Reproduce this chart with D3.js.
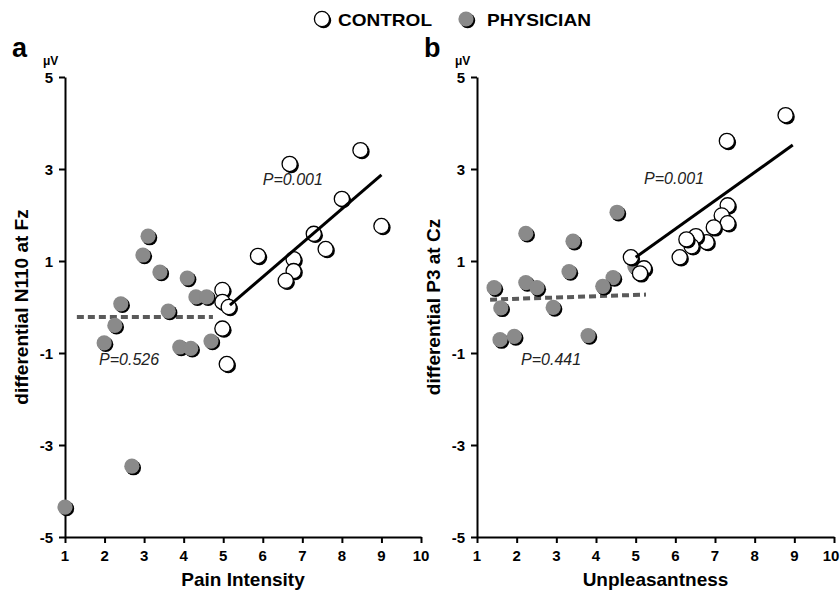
<!DOCTYPE html>
<html>
<head>
<meta charset="utf-8">
<script src="https://cdn.jsdelivr.net/npm/d3@7"></script>
<style>
  body { margin: 0; background: #fff; }
</style>
</head>
<body>
<svg id="chart" width="840" height="591"></svg>
<script>
// panel a: pain intensity vs differential N110 at Fz
const ctrlPainX = [6.68, 8.47, 8.0, 9.0, 5.88, 7.29, 7.59, 6.78, 6.78, 6.58, 4.98, 4.98, 5.14, 4.98, 5.09];
const ctrlPainY = [3.11, 3.41, 2.35, 1.76, 1.11, 1.59, 1.26, 1.04, 0.78, 0.57, 0.37, 0.11, 0.0, -0.47, -1.24];
const physPainX = [3.10, 2.97, 3.40, 4.09, 4.31, 4.58, 2.41, 3.61, 2.26, 1.99, 3.90, 4.18, 4.69, 2.69, 1.0];
const physPainY = [1.54, 1.13, 0.76, 0.63, 0.22, 0.22, 0.07, -0.09, -0.40, -0.78, -0.87, -0.90, -0.74, -3.46, -4.35];
const ctrlPainFit = [[5.17, 0.04], [9.0, 2.87]];
const physPainFit = [[1.3, -0.22], [4.74, -0.22]];

// panel b: unpleasantness vs differential P3 at Cz
const ctrlUnplX = [8.78, 7.30, 7.32, 7.17, 7.32, 6.97, 6.79, 6.52, 6.41, 6.28, 6.11, 4.88, 5.21, 5.11];
const ctrlUnplY = [4.17, 3.61, 2.21, 1.99, 1.82, 1.73, 1.41, 1.54, 1.32, 1.47, 1.08, 1.08, 0.84, 0.73];
const physUnplX = [4.53, 2.23, 3.42, 3.32, 4.98, 4.43, 4.17, 2.23, 2.51, 1.43, 1.60, 2.92, 1.58, 1.94, 3.80];
const physUnplY = [2.06, 1.60, 1.43, 0.77, 0.88, 0.64, 0.45, 0.53, 0.42, 0.42, -0.02, -0.01, -0.71, -0.64, -0.62];
const ctrlUnplFit = [[5.0, 1.08], [8.96, 3.52]];
const physUnplFit = [[1.33, 0.16], [5.26, 0.27]];

const xTicks = [1, 2, 3, 4, 5, 6, 7, 8, 9, 10];
const yTicks = [5, 3, 1, -1, -3, -5];

const FONT = '"Liberation Sans", Arial, sans-serif';
const svg = d3.select('#chart').style('font-family', FONT);

function marker(g, x, y, filled) {
  g.append('circle').attr('cx', x + 1.6).attr('cy', y + 1.6).attr('r', 7.6).attr('fill', '#000');
  g.append('circle').attr('cx', x).attr('cy', y).attr('r', 7.6)
    .attr('fill', filled ? '#8a8a8a' : '#fff')
    .attr('stroke', filled ? 'none' : '#000').attr('stroke-width', 1.3);
}

// legend
const legend = svg.append('g');
marker(legend, 322, 19, false);
legend.append('text').attr('x', 338).attr('y', 26).text('CONTROL')
  .attr('font-size', 17).attr('font-weight', 'bold')
  .attr('textLength', 94).attr('lengthAdjust', 'spacingAndGlyphs');
marker(legend, 466, 19, true);
legend.append('text').attr('x', 487).attr('y', 26).text('PHYSICIAN')
  .attr('font-size', 17).attr('font-weight', 'bold')
  .attr('textLength', 104).attr('lengthAdjust', 'spacingAndGlyphs');

function drawPanel(opts) {
  const x = d3.scaleLinear().domain([1, 10]).range([opts.left, opts.right]);
  const y = d3.scaleLinear().domain([-5, 5]).range([537, 77]);
  const g = svg.append('g');

  // axes: lines and tick marks from d3, labels drawn separately
  const xAx = g.append('g').attr('transform', `translate(0,${y(-5)})`)
    .call(d3.axisBottom(x).tickValues(xTicks).tickFormat('').tickSize(6).tickSizeOuter(0));
  const yAx = g.append('g').attr('transform', `translate(${x(1)},0)`)
    .call(d3.axisLeft(y).tickValues(yTicks).tickFormat('').tickSize(6).tickSizeOuter(0));
  [xAx, yAx].forEach(ax => {
    ax.select('.domain').attr('stroke', '#000').attr('stroke-width', 2);
    ax.selectAll('.tick line').attr('stroke', '#000').attr('stroke-width', 2);
  });

  g.append('g').selectAll('text').data(xTicks).join('text')
    .attr('x', d => x(d) - (opts.shiftLast && d === 10 ? 3 : 0))
    .attr('y', 561).attr('text-anchor', 'middle')
    .attr('font-size', 15).attr('font-weight', 'bold').text(d => d);
  g.append('g').selectAll('text').data(yTicks).join('text')
    .attr('x', x(1) - 12).attr('y', d => y(d) + 5.5).attr('text-anchor', 'end')
    .attr('font-size', 15).attr('font-weight', 'bold').text(d => String(d));

  g.append('text').attr('x', opts.left - 53).attr('y', 57).text(opts.letter)
    .attr('font-size', 27).attr('font-weight', 'bold');
  g.append('text').attr('x', opts.left - 22).attr('y', 65).text('μV')
    .attr('font-size', 12).attr('font-weight', 'bold');

  g.append('text').attr('transform', `translate(${opts.left - 37},${y(0)}) rotate(-90)`)
    .attr('text-anchor', 'middle').text(opts.yTitle)
    .attr('font-size', 19).attr('font-weight', 'bold');
  g.append('text').attr('x', (x(1) + x(10)) / 2).attr('y', 586)
    .attr('text-anchor', 'middle').text(opts.xTitle)
    .attr('font-size', 19).attr('font-weight', 'bold');

  const line = d3.line().x(d => x(d[0])).y(d => y(d[1]));
  g.append('path').datum(opts.physFit).attr('d', line)
    .attr('stroke', '#5a5a5a').attr('stroke-width', 4).attr('stroke-dasharray', '7,4').attr('fill', 'none');

  const ctrl = opts.ctrlX.map((v, i) => [v, opts.ctrlY[i]]);
  const phys = opts.physX.map((v, i) => [v, opts.physY[i]]);

  const pts = g.append('g');
  phys.forEach(d => marker(pts, x(d[0]), y(d[1]), true));
  ctrl.forEach(d => marker(pts, x(d[0]), y(d[1]), false));

  g.append('path').datum(opts.ctrlFit).attr('d', line)
    .attr('stroke', '#000').attr('stroke-width', 3).attr('fill', 'none');

  opts.pLabels.forEach(p => {
    g.append('text').attr('x', x(p.x)).attr('y', y(p.y)).text(p.text)
      .attr('font-size', 16).attr('font-style', 'italic').attr('fill', '#222');
  });
}

drawPanel({
  left: 65, right: 421, letter: 'a',
  yTitle: 'differential N110 at Fz', xTitle: 'Pain Intensity',
  ctrlX: ctrlPainX, ctrlY: ctrlPainY, physX: physPainX, physY: physPainY,
  ctrlFit: ctrlPainFit, physFit: physPainFit,
  pLabels: [{ x: 6.0, y: 2.66, text: 'P=0.001' }, { x: 1.86, y: -1.27, text: 'P=0.526' }]
});

drawPanel({
  left: 477, right: 834, letter: 'b', shiftLast: true,
  yTitle: 'differential P3 at Cz', xTitle: 'Unpleasantness',
  ctrlX: ctrlUnplX, ctrlY: ctrlUnplY, physX: physUnplX, physY: physUnplY,
  ctrlFit: ctrlUnplFit, physFit: physUnplFit,
  pLabels: [{ x: 5.21, y: 2.68, text: 'P=0.001' }, { x: 2.11, y: -1.25, text: 'P=0.441' }]
});
</script>
</body>
</html>
